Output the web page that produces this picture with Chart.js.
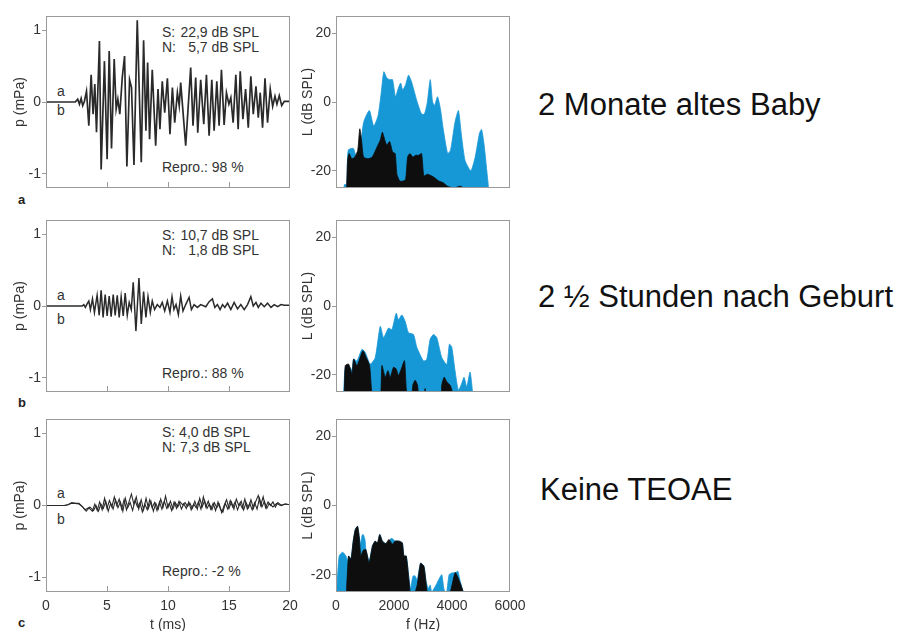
<!DOCTYPE html>
<html>
<head>
<meta charset="utf-8">
<script src="https://cdn.jsdelivr.net/npm/chart.js@4.4.1/dist/chart.umd.min.js"></script>
<style>
  html, body { margin: 0; padding: 0; background: #fff; }
  #fig { position: relative; width: 909px; height: 631px; overflow: hidden;
         font-family: "Liberation Sans", Arial, sans-serif; color: #333; }
  #fig canvas { position: absolute; }
  .txt { position: absolute; font-size: 14px; line-height: 16px; white-space: pre; }
  .sn { position: absolute; width: 97px; display: flex; justify-content: space-between;
        font-size: 14px; line-height: 16px; white-space: pre; }
  .panel { position: absolute; font-size: 13px; font-weight: bold; line-height: 16px; color: #222; }
  .head { position: absolute; font-size: 31px; line-height: 31px; color: #111; white-space: nowrap; }
</style>
</head>
<body>
<div id="fig">
  <!-- row a -->
  <div class="sn" style="left:162px;top:24px"><span>S:</span><span>22,9 dB SPL</span></div>
  <div class="sn" style="left:162px;top:39px"><span>N:</span><span>5,7 dB SPL</span></div>
  <div class="txt" style="left:162px;top:159px">Repro.: 98 %</div>
  <div class="txt" style="left:57px;top:83px">a</div>
  <div class="txt" style="left:57px;top:102px">b</div>
  <div class="panel" style="left:18px;top:192px">a</div>
  <div class="head" style="left:538px;top:89px">2 Monate altes Baby</div>

  <!-- row b -->
  <div class="sn" style="left:162px;top:227px"><span>S:</span><span>10,7 dB SPL</span></div>
  <div class="sn" style="left:162px;top:242px"><span>N:</span><span>1,8 dB SPL</span></div>
  <div class="txt" style="left:162px;top:365px">Repro.: 88 %</div>
  <div class="txt" style="left:57px;top:287px">a</div>
  <div class="txt" style="left:57px;top:311px">b</div>
  <div class="panel" style="left:18px;top:395px">b</div>
  <div class="head" style="left:538px;top:281px">2 ½ Stunden nach Geburt</div>

  <!-- row c -->
  <div class="txt" style="left:162px;top:424px">S: 4,0 dB SPL</div>
  <div class="txt" style="left:162px;top:439px">N: 7,3 dB SPL</div>
  <div class="txt" style="left:162px;top:563px">Repro.: -2 %</div>
  <div class="txt" style="left:57px;top:485px">a</div>
  <div class="txt" style="left:57px;top:511px">b</div>
  <div class="panel" style="left:18px;top:615px">c</div>
  <div class="head" style="left:540px;top:474px">Keine TEOAE</div>
</div>

<script>
// ---- axis ticks ----
const timeTicks = [0, 5, 10, 15, 20];
const timeInnerTicks = [5, 10, 15];
const pressureTicks = [-1, 0, 1];
const freqTicks = [0, 2000, 4000, 6000];
const levelTicks = [-20, 0, 20];

// ---- TEOAE waveforms: [t (ms), p (mPa)] ----
const waveA = [[0,0],[2.4,0],[2.6,0.04],[2.74,-0.03],[2.88,0.05],[3.01,-0.05],[3.15,0.01],[3.32,0.15],
  [3.51,-0.33],[3.7,0.38],[3.86,-0.17],[4.0,0.25],[4.14,-0.42],[4.38,0.85],[4.52,-0.94],[4.79,0.57],
  [5.01,-0.8],[5.18,0.71],[5.37,-0.65],[5.59,0.6],[5.75,-0.1],[5.89,0.04],[6.05,-0.17],[6.25,0.34],
  [6.44,0.64],[6.63,-0.9],[6.85,0.31],[7.01,0.2],[7.21,-0.88],[7.48,1.14],[7.81,-0.84],[8.0,0.86],
  [8.19,-0.4],[8.33,0.55],[8.49,-0.52],[8.71,0.45],[8.99,-0.61],[9.18,0.18],[9.34,-0.38],[9.53,0.29],
  [9.73,-0.15],[9.95,0.33],[10.16,-0.45],[10.36,0.2],[10.55,-0.29],[10.77,0.13],[10.92,-0.05],[11.04,0.27],
  [11.45,-0.61],[11.86,0.48],[12.05,-0.33],[12.27,0.34],[12.44,-0.43],[12.68,0.31],[12.93,-0.31],[13.15,0.38],
  [13.37,-0.47],[13.59,0.31],[13.78,-0.4],[14.0,0.29],[14.19,-0.33],[14.38,0.45],[14.6,-0.32],[14.79,0.13],
  [14.99,-0.03],[15.15,0.06],[15.34,-0.29],[15.56,0.38],[15.75,-0.38],[15.92,0.43],[16.14,-0.24],[16.36,0.18],
  [16.58,-0.36],[16.79,0.36],[16.99,-0.17],[17.21,0.22],[17.4,-0.22],[17.56,0.13],[17.75,-0.36],[17.95,0.33],
  [18.16,-0.29],[18.38,0.18],[18.58,-0.06],[18.77,0.08],[18.93,-0.03],[19.12,0.09],[19.32,-0.05],[19.53,0.01],[20,0.01]];

const waveB = [[0,0],[2.96,0],[3.1,0.02],[3.23,-0.02],[3.37,0.03],[3.51,0.07],[3.64,-0.05],[3.81,0.1],
  [3.97,-0.09],[4.19,0.15],[4.36,-0.13],[4.52,0.22],[4.68,-0.16],[4.85,0.16],[5.01,-0.14],[5.18,0.14],
  [5.34,-0.15],[5.51,0.16],[5.67,-0.13],[5.84,0.15],[6.0,-0.16],[6.16,0.13],[6.33,-0.14],[6.49,0.18],
  [6.66,-0.13],[6.82,0.05],[6.99,-0.05],[7.15,0.33],[7.37,-0.35],[7.62,0.39],[7.81,-0.25],[8.0,0.2],
  [8.19,-0.16],[8.36,0.13],[8.55,-0.09],[8.71,0.07],[8.9,-0.05],[9.12,0.02],[9.34,-0.02],[9.53,0.05],
  [9.73,-0.07],[9.95,0.07],[10.16,-0.09],[10.33,0.13],[10.49,-0.05],[10.66,0.02],[10.85,-0.12],[11.04,0.14],
  [11.23,-0.07],[11.45,0.02],[11.73,0.12],[11.92,-0.05],[12.14,0.02],[12.41,-0.02],[12.68,0.02],[13.1,-0.01],
  [13.37,0.06],[13.64,0.1],[13.84,-0.02],[14.05,0.02],[14.27,-0.05],[14.47,0.02],[14.66,-0.02],[14.88,0.04],
  [15.15,-0.05],[15.42,0.05],[15.7,-0.04],[15.97,0.02],[16.25,-0.05],[16.52,0.02],[16.79,0.13],[16.99,0],
  [17.21,0.05],[17.4,-0.02],[17.62,0.04],[17.89,-0.01],[18.16,0.04],[18.44,-0.02],[18.71,0.02],[18.99,-0.01],
  [19.26,0.02],[19.53,0.01],[20,0.01]];

const waveC1 = [[0,0],[1.5,0],[1.8,0.01],[2.1,0.04],[2.4,0.03],[2.7,0.03],[3.0,-0.02],[3.2,-0.06],[3.5,-0.03],
  [3.8,-0.08],[4.0,0.02],[4.2,-0.07],[4.4,0.05],[4.6,-0.06],[4.8,0.1],[5.0,-0.04],[5.2,0.07],[5.4,-0.02],
  [5.6,0.12],[5.8,0],[6.0,0.09],[6.2,-0.05],[6.4,0.08],[6.6,-0.06],[6.8,0.05],[7.0,0.16],[7.2,0.02],
  [7.4,0.12],[7.6,-0.05],[7.8,0.08],[8.0,-0.06],[8.2,0.1],[8.4,-0.04],[8.6,0.06],[8.8,-0.08],[9.0,0.03],
  [9.2,-0.05],[9.4,0.09],[9.6,-0.02],[9.8,0.13],[10.0,-0.03],[10.2,0.06],[10.4,-0.05],[10.6,0.04],[10.8,-0.02],
  [11.0,0.05],[11.2,0.01],[11.4,0.04],[11.6,-0.01],[11.8,0.03],[12.0,-0.04],[12.2,0.06],[12.4,-0.05],[12.6,0.1],
  [12.8,-0.02],[13.0,0.07],[13.2,-0.04],[13.4,0.02],[13.6,-0.06],[13.8,0.04],[14.0,-0.03],[14.2,0.02],[14.4,-0.1],
  [14.6,0],[14.8,0.08],[15.0,-0.04],[15.2,0.05],[15.4,-0.05],[15.6,0.09],[15.8,0],[16.0,0.06],[16.2,-0.06],
  [16.4,0.04],[16.6,-0.03],[16.8,0.08],[17.0,-0.04],[17.2,0.06],[17.4,0.14],[17.6,0],[17.8,0.12],[18.0,-0.03],
  [18.2,0.05],[18.4,0],[18.6,0.05],[18.8,-0.02],[19.0,0.04],[19.3,0],[19.6,0.02],[20,0.01]];

const waveC2 = [[0,0],[1.5,0],[1.8,0.01],[2.1,0.03],[2.4,0.03],[2.7,0.02],[3.0,-0.02],[3.3,-0.08],[3.6,-0.02],
  [3.9,-0.07],[4.1,0],[4.3,-0.08],[4.5,0.02],[4.7,-0.04],[4.9,0.06],[5.1,-0.08],[5.3,0.03],[5.5,-0.05],
  [5.7,0.08],[5.9,-0.03],[6.1,0.05],[6.3,-0.08],[6.5,0.1],[6.7,-0.03],[6.9,0.04],[7.1,-0.07],[7.3,0.07],
  [7.5,-0.02],[7.7,0.04],[7.9,-0.09],[8.1,0.02],[8.3,-0.06],[8.5,0.08],[8.7,-0.03],[8.9,0.04],[9.1,-0.07],
  [9.3,0.05],[9.5,-0.05],[9.7,0.06],[9.9,-0.04],[10.1,0.03],[10.3,-0.07],[10.5,0.05],[10.7,-0.04],[10.9,0.06],
  [11.1,-0.05],[11.3,0.02],[11.5,-0.04],[11.7,0.05],[11.9,-0.06],[12.1,0.02],[12.3,-0.03],[12.5,0.05],[12.7,-0.05],
  [12.9,0.12],[13.1,-0.02],[13.3,0.06],[13.5,-0.05],[13.7,0.03],[13.9,-0.07],[14.1,0.05],[14.3,-0.05],[14.5,-0.09],
  [14.7,0.03],[14.9,-0.05],[15.1,0.07],[15.3,-0.02],[15.5,0.05],[15.7,-0.06],[15.9,0.03],[16.1,-0.04],[16.3,0.09],
  [16.5,-0.05],[16.7,0.03],[16.9,-0.06],[17.1,0.04],[17.3,-0.05],[17.5,0.1],[17.7,-0.02],[17.9,0.06],[18.1,-0.04],
  [18.3,0.03],[18.6,-0.02],[18.9,0.03],[19.2,0],[19.6,0.02],[20,0.01]];

// ---- emission spectra (blue) and noise spectra (black): [f (Hz), L (dB SPL)] ----
const specA = [[250,-30],[290,-24],[370,-24],[420,-14],[600,-13.5],[700,-16],[800,-16],[950,-6],[1150,-2.5],
  [1300,-7],[1450,-4],[1550,2],[1650,8.8],[1750,7],[1850,6.5],[1950,6.5],[2050,1.5],[2150,4],[2230,5.5],
  [2300,3.5],[2400,5],[2500,7.8],[2600,6],[2700,3],[2800,0],[2950,-3.5],[3050,-3.5],[3150,0],[3250,6.5],
  [3330,0],[3400,-1],[3500,1.5],[3600,-2],[3700,-8],[3850,-15],[3950,-14],[4100,-6],[4220,-2.5],[4330,-10],
  [4450,-17],[4650,-20],[4800,-16],[4950,-9],[5020,-8],[5100,-12],[5200,-20],[5260,-25],[5300,-30]];
const noiseA = [[330,-30],[370,-24],[400,-17],[450,-15],[550,-16.5],[650,-16],[750,-14],[820,-7.8],[880,-11],
  [950,-16],[1100,-16.5],[1250,-16],[1420,-13],[1530,-11],[1600,-8.8],[1680,-11],[1750,-12.5],[1850,-11.5],
  [1950,-14.5],[2040,-15],[2100,-21],[2200,-23],[2300,-23],[2400,-22.5],[2470,-16],[2550,-15],[2650,-16],
  [2750,-15.5],[2850,-15.5],[2950,-15],[3030,-21.5],[3150,-21],[3300,-21.5],[3400,-22],[3550,-23],[3700,-23.5],
  [3850,-24.5],[4050,-25],[4300,-24.5],[4500,-26],[4560,-30]];

const specB = [[230,-30],[264,-25],[321,-17.8],[436,-17.3],[551,-18.6],[608,-15.4],[723,-16],[895,-12.6],
  [1009,-13.5],[1181,-16.9],[1353,-15],[1526,-5.9],[1640,-9.2],[1812,-6.4],[1927,-6.9],[2076,-2.1],[2156,-4],
  [2271,-2.6],[2386,-4.5],[2500,-7.8],[2672,-8.3],[2787,-12],[3017,-16],[3131,-15.5],[3246,-9.7],[3361,-8.3],
  [3475,-9.2],[3648,-15],[3820,-17],[3911,-11.1],[3992,-12],[4106,-18.9],[4221,-24.5],[4336,-22.5],[4416,-20.7],
  [4508,-23.5],[4622,-19.2],[4714,-25.5],[4760,-30]];
const noiseB = [[250,-30],[287,-25],[321,-17.3],[436,-16.9],[551,-19.7],[608,-15.4],[723,-17.3],[929,-13],
  [1044,-15],[1158,-17.3],[1227,-24.5],[1300,-27],[1525,-27],[1583,-17.3],[1698,-20.7],[1789,-18.8],[1870,-20.7],
  [1984,-17.8],[2076,-18.3],[2156,-20.2],[2271,-17.8],[2363,-15.9],[2443,-25.5],[2600,-27],[2650,-23],
  [2730,-21.6],[2810,-23],[2870,-27],[3017,-27],[3074,-24],[3131,-27],[3600,-27],[3647,-23],[3728,-20.7],
  [3820,-22],[3934,-23],[4049,-26],[4100,-30]];

const specC = [[0,-30],[30,-24],[110,-14.6],[230,-13.5],[340,-14.6],[400,-16],[434,-14.6],[514,-15.5],[594,-10.3],
  [663,-7],[743,-6],[800,-9],[850,-11],[900,-8.6],[940,-8.4],[1000,-10],[1029,-12.7],[1143,-16],[1257,-11.7],
  [1349,-10.3],[1429,-11],[1509,-8.4],[1600,-10.3],[1715,-11],[1829,-10.3],[1900,-9.5],[1980,-9.8],[2035,-10.3],
  [2172,-10.3],[2286,-10.8],[2343,-14.6],[2423,-14.6],[2515,-21],[2572,-24],[2650,-20.5],[2720,-20.3],[2800,-21.5],
  [2915,-16.7],[3029,-17.5],[3109,-22],[3180,-24],[3250,-23],[3300,-25],[3450,-23],[3600,-20.5],[3650,-20],
  [3720,-24],[3800,-26],[3900,-20],[4000,-19.5],[4115,-19.4],[4200,-19],[4286,-22],[4400,-25.5],[4450,-30]];
const noiseC = [[330,-30],[366,-24],[434,-14.6],[514,-15.5],[594,-10.3],[663,-7],[743,-6],[800,-9],[857,-14.5],
  [937,-13],[1029,-12.7],[1143,-16.5],[1257,-11.7],[1349,-10.3],[1429,-10.8],[1509,-8.4],[1600,-10.3],[1715,-11],
  [1829,-9.8],[1943,-11.2],[2035,-10.3],[2172,-10.3],[2286,-10.8],[2343,-14.6],[2423,-14.6],[2515,-21.5],
  [2572,-25.5],[2700,-25.5],[2800,-23],[2915,-16.7],[3029,-17.5],[3109,-22.5],[3178,-25.5],[3900,-25.5],
  [4000,-23],[4115,-19.4],[4286,-22.5],[4400,-25.5],[4450,-30]];

// ---- drawing ----
Chart.defaults.font.family = '"Liberation Sans", Arial, sans-serif';
Chart.defaults.color = '#333';

const BLUE = '#1697d6';
const BLACK = '#0e0e0e';
const TRACE = '#2a2a2a';
const FRAME = '#9a9a9a';
const fig = document.getElementById('fig');

const setTicks = vals => scale => { scale.ticks = vals.map(v => ({ value: v })); };
const asPoints = arr => arr.map(([x, y]) => ({ x, y }));

// box around the plot area plus short tick marks pointing inward from the bottom edge
const framePlugin = {
  id: 'frame',
  afterDatasetsDraw(chart, args, opts) {
    const { ctx, chartArea: a, scales } = chart;
    ctx.save();
    ctx.strokeStyle = FRAME;
    ctx.lineWidth = 1;
    ctx.strokeRect(a.left + 0.5, a.top + 0.5, a.right - a.left - 1, a.bottom - a.top - 1);
    (opts.inner || []).forEach(v => {
      const x = Math.round(scales.x.getPixelForValue(v)) + 0.5;
      ctx.beginPath();
      ctx.moveTo(x, a.bottom);
      ctx.lineTo(x, a.bottom - 6);
      ctx.stroke();
    });
    ctx.restore();
  }
};

function addCanvas(left, top, w, h) {
  const c = document.createElement('canvas');
  c.width = w; c.height = h;
  c.style.left = left + 'px'; c.style.top = top + 'px';
  c.style.width = w + 'px'; c.style.height = h + 'px';
  fig.appendChild(c);
  return c;
}

function axisCommon(isLast, xh) {
  return {
    afterFit: s => { s.height = xh; },
    grid: { display: false },
    border: { display: false },
    ticks: { display: isLast, font: { size: 14 }, color: '#333', padding: -2,
             maxRotation: 0, autoSkip: false, callback: v => String(v) }
  };
}

function waveChart(top, bottom, isLast, traces) {
  const xh = isLast ? 42 : 10;
  const c = addCanvas(0, top - 10, 300, bottom - top + 10 + xh);
  return new Chart(c, {
    type: 'line',
    data: {
      datasets: traces.map(t => ({
        data: asPoints(t.data), borderColor: TRACE, borderWidth: t.width,
        pointRadius: 0, tension: 0, fill: false
      }))
    },
    options: {
      responsive: false, animation: false, devicePixelRatio: 1,
      layout: { autoPadding: false, padding: { top: 10, left: 0, right: 10, bottom: 0 } },
      plugins: { legend: { display: false }, tooltip: { enabled: false }, frame: { inner: timeInnerTicks } },
      scales: {
        x: Object.assign(axisCommon(isLast, xh), {
          type: 'linear', min: 0, max: 20, afterBuildTicks: setTicks(timeTicks),
          title: { display: isLast, text: 't (ms)', font: { size: 14 }, color: '#333', padding: { top: 0, bottom: 0 } }
        }),
        y: {
          type: 'linear', min: -1.2, max: 1.2, afterBuildTicks: setTicks(pressureTicks),
          afterFit: s => { s.width = 46; },
          grid: { drawOnChartArea: false, drawTicks: true, tickLength: 4, color: FRAME },
          border: { display: false },
          ticks: { font: { size: 14 }, color: '#333', padding: 1, callback: v => String(v) },
          title: { display: true, text: 'p (mPa)', font: { size: 14 }, color: '#333', padding: { top: 12, bottom: 0 } }
        }
      }
    },
    plugins: [framePlugin]
  });
}

function specChart(top, bottom, isLast, emission, noise) {
  const xh = isLast ? 42 : 10;
  const c = addCanvas(298, top - 10, 234, bottom - top + 10 + xh);
  const area = (d, col) => ({
    data: asPoints(d), borderColor: col, backgroundColor: col, borderWidth: 0.8,
    pointRadius: 0, tension: 0.2, fill: 'start'
  });
  return new Chart(c, {
    type: 'line',
    // first dataset is painted last, so the noise floor sits on top of the emission
    data: { datasets: [area(noise, BLACK), area(emission, BLUE)] },
    options: {
      responsive: false, animation: false, devicePixelRatio: 1,
      layout: { autoPadding: false, padding: { top: 10, left: 0, right: 22, bottom: 0 } },
      plugins: { legend: { display: false }, tooltip: { enabled: false }, frame: { inner: [] } },
      scales: {
        x: Object.assign(axisCommon(isLast, xh), {
          type: 'linear', min: 0, max: 6000, afterBuildTicks: setTicks(freqTicks),
          title: { display: isLast, text: 'f (Hz)', font: { size: 14 }, color: '#333', padding: { top: 0, bottom: 0 } }
        }),
        y: {
          type: 'linear', min: -25, max: 25, afterBuildTicks: setTicks(levelTicks),
          afterFit: s => { s.width = 38; },
          grid: { drawOnChartArea: false, drawTicks: true, tickLength: 4, color: FRAME },
          border: { display: false },
          ticks: { font: { size: 14 }, color: '#333', padding: 1, callback: v => String(v) },
          title: { display: true, text: 'L (dB SPL)', font: { size: 14 }, color: '#333', padding: { top: 2, bottom: 0 } }
        }
      }
    },
    plugins: [framePlugin]
  });
}

waveChart(16, 188, false, [{ data: waveA, width: 1.7 }]);
waveChart(220, 392, false, [{ data: waveB, width: 1.5 }]);
waveChart(419, 592, true, [{ data: waveC1, width: 1.1 }, { data: waveC2, width: 1.1 }]);

specChart(16, 188, false, specA, noiseA);
specChart(220, 392, false, specB, noiseB);
specChart(419, 592, true, specC, noiseC);
</script>
</body>
</html>
